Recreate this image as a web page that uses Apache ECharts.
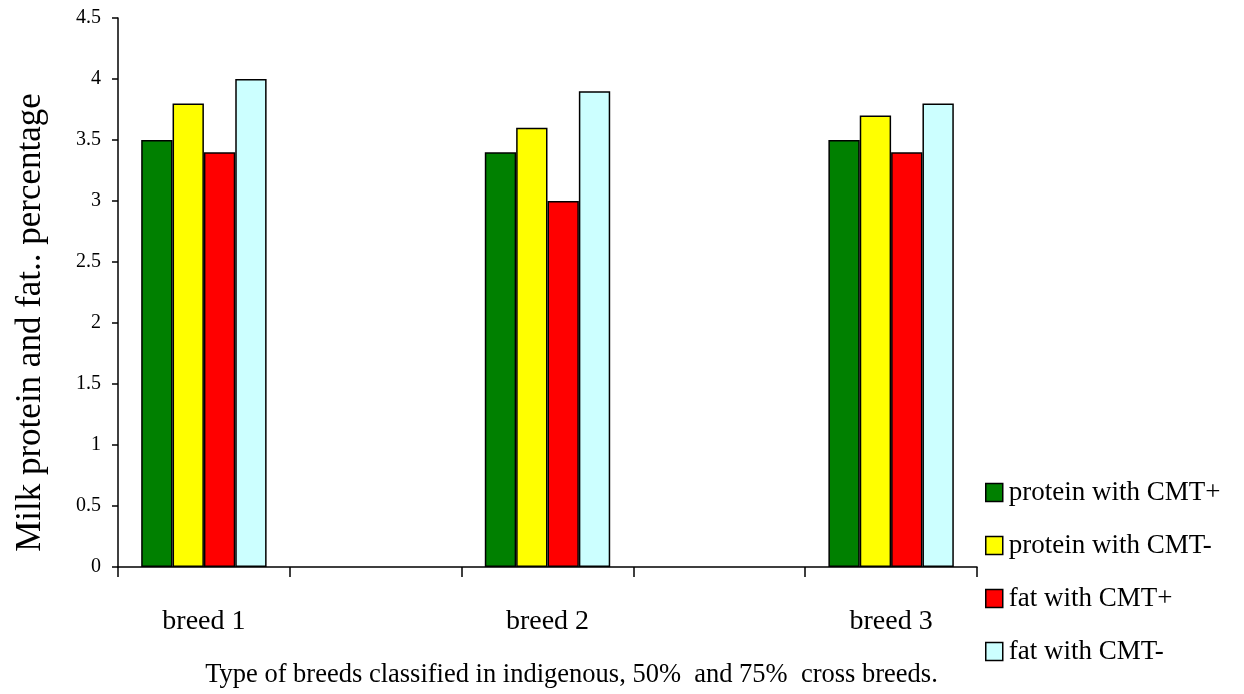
<!DOCTYPE html>
<html>
<head>
<meta charset="utf-8">
<script src="https://cdn.jsdelivr.net/npm/echarts@6/dist/echarts.min.js"></script>
<style>html,body{margin:0;padding:0;background:#fff;}#c{width:1244px;height:694px;}</style>
</head>
<body>
<div id="c"></div>
<script>
const categories = ['breed 1', '', 'breed 2', '', 'breed 3'];
const seriesNames = ['protein with CMT+', 'protein with CMT-', 'fat with CMT+', 'fat with CMT-'];
const proteinPlus = [3.5, null, 3.4, null, 3.5];
const proteinMinus = [3.8, null, 3.6, null, 3.7];
const fatPlus = [3.4, null, 3.0, null, 3.4];
const fatMinus = [4.0, null, 3.9, null, 3.8];
const colors = ['#008000', '#FFFF00', '#FF0000', '#CCFFFF'];
const values = [proteinPlus, proteinMinus, fatPlus, fatMinus];

const font = '"Liberation Serif", "Times New Roman", serif';
const chart = echarts.init(document.getElementById('c'));
chart.setOption({
  animation: false,
  backgroundColor: '#fff',
  textStyle: { fontFamily: font, color: '#000' },
  grid: { left: 118, right: 267, top: 18, bottom: 127, containLabel: false, outerBoundsMode: 'none' },
  legend: {
    orient: 'vertical',
    left: 980,
    top: 474,
    itemWidth: 17,
    itemHeight: 18,
    itemGap: 26,
    icon: 'rect',
    itemStyle: { borderColor: '#000', borderWidth: 1.5 },
    textStyle: { fontFamily: font, fontSize: 27, color: '#000', padding: [0, 0, 0, 1] },
    data: seriesNames
  },
  xAxis: {
    type: 'category',
    data: categories,
    name: 'Type of breeds classified in indigenous, 50%  and 75%  cross breeds.',
    nameLocation: 'middle',
    nameGap: 95,
    nameTextStyle: { fontFamily: font, fontSize: 26.5, color: '#000', padding: [0, 0, 0, 48] },
    axisLine: { lineStyle: { color: '#000', width: 1.5 } },
    axisTick: { show: true, length: 10, lineStyle: { color: '#000', width: 1.5 } },
    axisLabel: { fontFamily: font, fontSize: 28, color: '#000', margin: 41 },
    splitLine: { show: false }
  },
  yAxis: {
    type: 'value',
    min: 0,
    max: 4.5,
    interval: 0.5,
    name: 'Milk protein and fat.. percentage',
    nameLocation: 'middle',
    nameGap: 70,
    nameTextStyle: { fontFamily: font, fontSize: 35, color: '#000', padding: [0, 60, 0, 0] },
    axisLine: { show: true, lineStyle: { color: '#000', width: 1.5 } },
    axisTick: { show: true, length: 6, lineStyle: { color: '#000', width: 1.5 } },
    axisLabel: { fontFamily: font, fontSize: 20, color: '#000', margin: 17, padding: [4, 0, 0, 0] },
    splitLine: { show: false }
  },
  series: seriesNames.map((n, i) => ({
    name: n,
    type: 'bar',
    data: values[i],
    barGap: '0%',
    barCategoryGap: '27%',
    itemStyle: { color: colors[i], borderColor: '#000', borderWidth: 1.5 }
  }))
});
</script>
</body>
</html>
